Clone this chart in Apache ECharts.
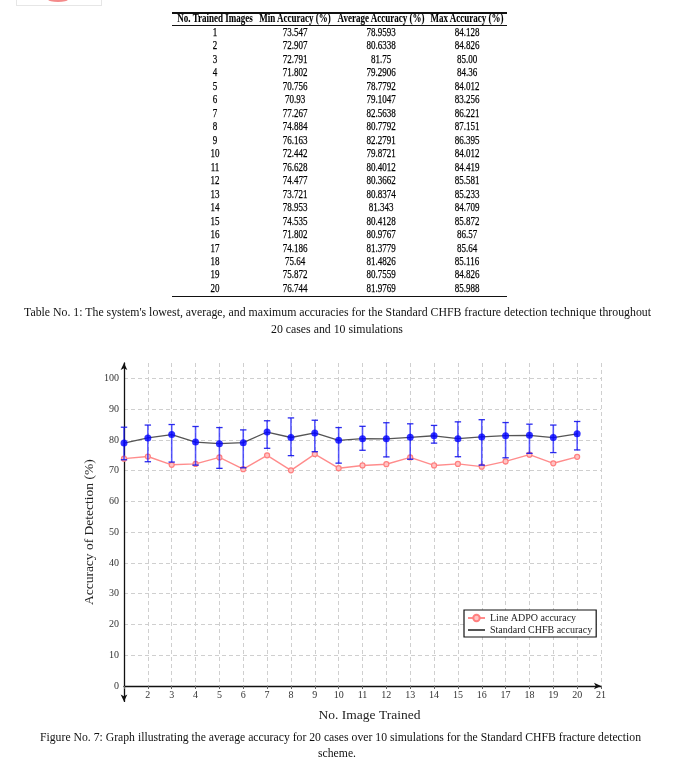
<!DOCTYPE html>
<html>
<head>
<meta charset="utf-8">
<script src="https://cdn.jsdelivr.net/npm/echarts@6/dist/echarts.min.js"></script>
<style>
  html, body { margin:0; padding:0; background:#fff; }
  #page { position:relative; width:673px; height:768px; overflow:hidden; font-family:"Liberation Serif", "Times New Roman", serif; color:#111; }
  #chart { position:absolute; left:0; top:0; width:673px; height:768px; z-index:0; }
  .t { position:absolute; white-space:nowrap; z-index:2; }
  .cell { position:absolute; width:140px; text-align:center; font-size:12.5px; transform:scaleX(0.72); transform-origin:50% 50%; z-index:2; white-space:nowrap; color:#000; -webkit-text-stroke:0.25px #000; }
  .hdr { font-weight:bold; -webkit-text-stroke:0.1px #000; }
  .rule { position:absolute; background:#111; z-index:2; }
  .cap { position:absolute; font-size:12px; white-space:nowrap; transform-origin:0 50%; z-index:2; color:#111; }
</style>
</head>
<body>
<div id="page">
  <div id="chart"></div>
</div>
<script>
// ---------------- data ----------------
const cases = [1, 2, 3, 4, 5, 6, 7, 8, 9, 10, 11, 12, 13, 14, 15, 16, 17, 18, 19, 20];
const tblHeaders = ["No. Trained Images", "Min Accuracy (%)", "Average Accuracy (%)", "Max Accuracy (%)"];
const tblMin = ["73.547","72.907","72.791","71.802","70.756","70.93","77.267","74.884","76.163","72.442","76.628","74.477","73.721","78.953","74.535","71.802","74.186","75.64","75.872","76.744"];
const tblAvg = ["78.9593","80.6338","81.75","79.2906","78.7792","79.1047","82.5638","80.7792","82.2791","79.8721","80.4012","80.3662","80.8374","81.343","80.4128","80.9767","81.3779","81.4826","80.7559","81.9769"];
const tblMax = ["84.128","84.826","85.00","84.36","84.012","83.256","86.221","87.151","86.395","84.012","84.419","85.581","85.233","84.709","85.872","86.57","85.64","85.116","84.826","85.988"];
const adpoAcc = [73.9, 74.6, 71.9, 72.2, 74.3, 70.5, 75.0, 70.1, 75.4, 70.8, 71.7, 72.1, 74.3, 71.7, 72.2, 71.3, 73.0, 75.2, 72.4, 74.5];
const xTicks = [2, 3, 4, 5, 6, 7, 8, 9, 10, 11, 12, 13, 14, 15, 16, 17, 18, 19, 20, 21];
const yTicks = [0, 10, 20, 30, 40, 50, 60, 70, 80, 90, 100];
const tableCaption = ["Table No. 1: The system's lowest, average, and maximum accuracies for the Standard CHFB fracture detection technique throughout", "20 cases and 10 simulations"];
const figCaption = ["Figure No. 7: Graph illustrating the average accuracy for 20 cases over 10 simulations for the Standard CHFB fracture detection", "scheme."];

const minAcc = tblMin.map(Number);
const avgAcc = tblAvg.map(Number);
const maxAcc = tblMax.map(Number);

// ---------------- table (HTML) ----------------
const page = document.getElementById('page');
function add(cls, text, css) {
  const d = document.createElement('div');
  d.className = cls;
  d.textContent = text;
  Object.assign(d.style, css || {});
  page.appendChild(d);
  return d;
}
// small cropped logo box at top-left
add('t', '', {left:'16px', top:'-2px', width:'84px', height:'6px', border:'1px solid #e6e6e6', background:'#fff'});
add('t', '', {left:'48px', top:'-3px', width:'20px', height:'5px', borderRadius:'50%', background:'#f48a8a'});

const colX = [215, 295, 381, 467];
const rowH = 13.47, row0 = 32, hdrY = 18;
tblHeaders.forEach((h, j) => {
  add('cell hdr', h, {left:(colX[j]-70)+'px', top:(hdrY-7)+'px', lineHeight:'14px'});
});
cases.forEach((c, i) => {
  const y = row0 + i*rowH;
  const vals = [String(c), tblMin[i], tblAvg[i], tblMax[i]];
  vals.forEach((v, j) => add('cell', v, {left:(colX[j]-70)+'px', top:(y-7)+'px', lineHeight:'14px'}));
});
add('rule', '', {left:'172px', width:'335px', top:'12px', height:'1.5px'});
add('rule', '', {left:'172px', width:'335px', top:'24.5px', height:'0.9px'});
add('rule', '', {left:'172px', width:'335px', top:'295.5px', height:'1.5px'});

function caption(lines, x0, w, y1, y2, cx) {
  const a = add('cap', lines[0], {left:x0+'px', top:(y1-8)+'px', lineHeight:'16px'});
  const nat = a.getBoundingClientRect().width;
  const s = w / nat;
  a.style.transform = 'scaleX(' + s + ')';
  const b = add('cap', lines[1], {left:'0px', top:(y2-8)+'px', lineHeight:'16px'});
  const nb = b.getBoundingClientRect().width;
  b.style.left = (cx - nb*s/2) + 'px';
  b.style.transform = 'scaleX(' + s + ')';
}
caption(tableCaption, 24, 627, 312, 329, 337);
caption(figCaption, 40, 601, 737, 753, 337);

// ---------------- chart ----------------
const chart = echarts.init(document.getElementById('chart'), null, {renderer:'canvas'});
const serif = 'Liberation Serif';
const errData = cases.map((c, i) => [c, minAcc[i], maxAcc[i]]);

chart.setOption({
  animation: false,
  backgroundColor: 'transparent',
  textStyle: { fontFamily: serif },
  grid: [
    { left: 124, right: 72, top: 363, bottom: 82, containLabel: false, outerBoundsMode: 'none' },
    { left: 124, right: 72, top: 363, bottom: 66.6, containLabel: false, outerBoundsMode: 'none' }
  ],
  legend: {
    left: 464, top: 610,
    orient: 'vertical',
    backgroundColor: '#fff',
    borderColor: '#111', borderWidth: 1.2, borderRadius: 0,
    padding: [3, 4, 2, 3],
    itemGap: 2,
    itemWidth: 17, itemHeight: 8,
    textStyle: { fontFamily: serif, fontSize: 10, color: '#222' },
    data: [
      { name: 'Line ADPO accuracy' },
      { name: 'Standard CHFB accuracy', itemStyle: { color: 'transparent', borderColor: 'transparent', borderWidth: 0, opacity: 0 } }
    ]
  },
  xAxis: [
    {
      gridIndex: 0, type: 'value', min: 1, max: 21, interval: 1,
      name: 'No. Image Trained', nameLocation: 'middle', nameGap: 22,
      nameTextStyle: { fontFamily: serif, fontSize: 13.5, color: '#222', padding: [0, 0, 0, 14] },
      axisLine: { onZero: false, lineStyle: { color: '#111', width: 1.3 }, symbol: ['none', 'arrow'], symbolSize: [5, 7] },
      axisTick: { show: true, inside: false, length: 3, lineStyle: { color: '#666' } },
      axisLabel: { fontFamily: serif, fontSize: 10, color: '#333', margin: 4,
        formatter: v => xTicks.indexOf(v) >= 0 ? String(v) : '' },
      splitLine: { show: true, lineStyle: { color: '#cfcfcf', type: [4, 3], width: 1 } }
    },
    { gridIndex: 1, type: 'value', min: 1, max: 21, show: false }
  ],
  yAxis: [
    {
      gridIndex: 0, type: 'value', min: 0, max: 105, interval: 5,
      axisLine: { show: false },
      axisTick: { show: false },
      axisLabel: { fontFamily: serif, fontSize: 10, color: '#333', margin: 5,
        formatter: v => yTicks.indexOf(v) >= 0 ? String(v) : '' },
      splitLine: { show: true, lineStyle: { color: ['#cfcfcf', 'transparent'], type: [4, 3], width: 1 } }
    },
    {
      gridIndex: 1, type: 'value', min: -5, max: 105,
      name: 'Accuracy of Detection (%)', nameLocation: 'middle', nameGap: 28, nameRotate: 90,
      nameTextStyle: { fontFamily: serif, fontSize: 13.5, color: '#222' },
      axisLine: { show: true, onZero: false, lineStyle: { color: '#111', width: 1.3 }, symbol: ['arrow', 'arrow'], symbolSize: [5, 7] },
      axisTick: { show: false }, axisLabel: { show: false }, splitLine: { show: false }
    }
  ],
  series: [
    {
      name: 'Line ADPO accuracy', type: 'line', z: 2,
      data: cases.map((c, i) => [c, adpoAcc[i]]),
      symbol: 'circle', symbolSize: 5, showSymbol: true,
      lineStyle: { color: '#ff8c8c', width: 1.4 },
      itemStyle: { color: '#ffc4c4', borderColor: '#ff7f7f', borderWidth: 1.2 }
    },
    {
      name: 'Standard CHFB accuracy', type: 'line', z: 3,
      data: cases.map((c, i) => [c, avgAcc[i]]),
      symbol: 'none',
      lineStyle: { color: '#555', width: 1.3 },
      itemStyle: { color: '#555' }
    },
    {
      name: 'errbars', type: 'custom', z: 4,
      data: errData,
      renderItem: function (params, api) {
        const x = api.value(0);
        const lo = api.coord([x, api.value(1)]);
        const hi = api.coord([x, api.value(2)]);
        const w = 3.2;
        return {
          type: 'group',
          children: [
            { type: 'line', shape: { x1: lo[0], y1: lo[1], x2: hi[0], y2: hi[1] }, style: { stroke: 'rgba(20,20,255,0.7)', lineWidth: 1.6 } },
            { type: 'line', shape: { x1: lo[0]-w, y1: lo[1], x2: lo[0]+w, y2: lo[1] }, style: { stroke: 'rgba(20,20,235,0.9)', lineWidth: 1.3 } },
            { type: 'line', shape: { x1: hi[0]-w, y1: hi[1], x2: hi[0]+w, y2: hi[1] }, style: { stroke: 'rgba(20,20,235,0.9)', lineWidth: 1.3 } }
          ]
        };
      }
    },
    {
      name: 'avgmarkers', type: 'scatter', z: 5,
      data: cases.map((c, i) => [c, avgAcc[i]]),
      symbol: 'circle', symbolSize: 7,
      itemStyle: { color: '#0000ff' }
    }
  ]
});
</script>
</body>
</html>
